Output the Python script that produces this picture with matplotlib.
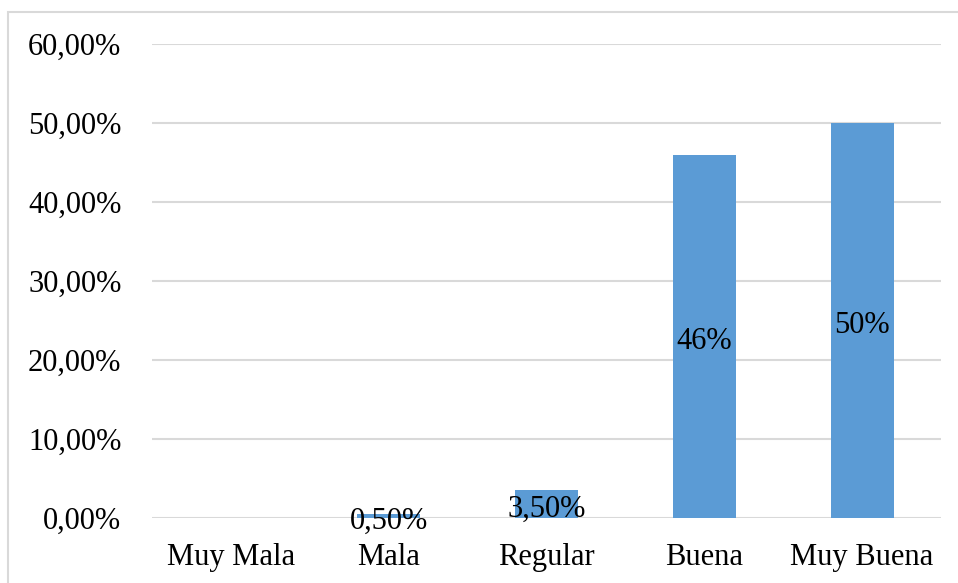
import matplotlib.pyplot as plt
from matplotlib.patches import Rectangle

categorias = ["Muy Mala", "Mala", "Regular", "Buena", "Muy Buena"]
valores = [0, 0.5, 3.5, 46, 50]
etiquetas = ["", "0,50%", "3,50%", "46%", "50%"]
ticks_y = [0, 10, 20, 30, 40, 50, 60]
ticks_y_txt = ["0,00%", "10,00%", "20,00%", "30,00%", "40,00%", "50,00%", "60,00%"]

plt.rcParams["font.family"] = ["Liberation Serif", "DejaVu Serif"]

W, H = 958, 583
fig = plt.figure(figsize=(W / 100, H / 100), dpi=100)
ax = fig.add_axes([152 / W, (H - 518) / H, (941 - 152) / W, (518 - 44) / H])

x = range(len(categorias))
bars = ax.bar(x, valores, width=0.4, color="#5B9BD5", zorder=2)
for b, v, t in zip(bars, valores, etiquetas):
    if t:
        ax.annotate(t, (b.get_x() + b.get_width() / 2, v / 2), xytext=(0, -3.5),
                    textcoords="offset points", ha="center", va="center",
                    fontsize=22, color="black", zorder=3)

ax.set_xlim(-0.5, len(categorias) - 0.5)
ax.set_ylim(0, 60)
ax.set_yticks(ticks_y)
ax.set_yticklabels(ticks_y_txt, fontsize=22)
ax.set_xticks(list(x))
ax.set_xticklabels(categorias, fontsize=22)
ax.tick_params(length=0, pad=22, axis="y")
ax.tick_params(length=0, pad=18, axis="x")
ax.grid(axis="y", color="#D9D9D9", linewidth=1.5, zorder=0)
ax.set_axisbelow(True)
for s in ax.spines.values():
    s.set_visible(False)

# marco exterior del gráfico
fig.patches.append(Rectangle((8 / W, -0.05), 1.1, (H - 12) / H + 0.05,
                             transform=fig.transFigure, fill=False,
                             edgecolor="#D9D9D9", linewidth=1.5))

fig.savefig("out.png", dpi=100)
